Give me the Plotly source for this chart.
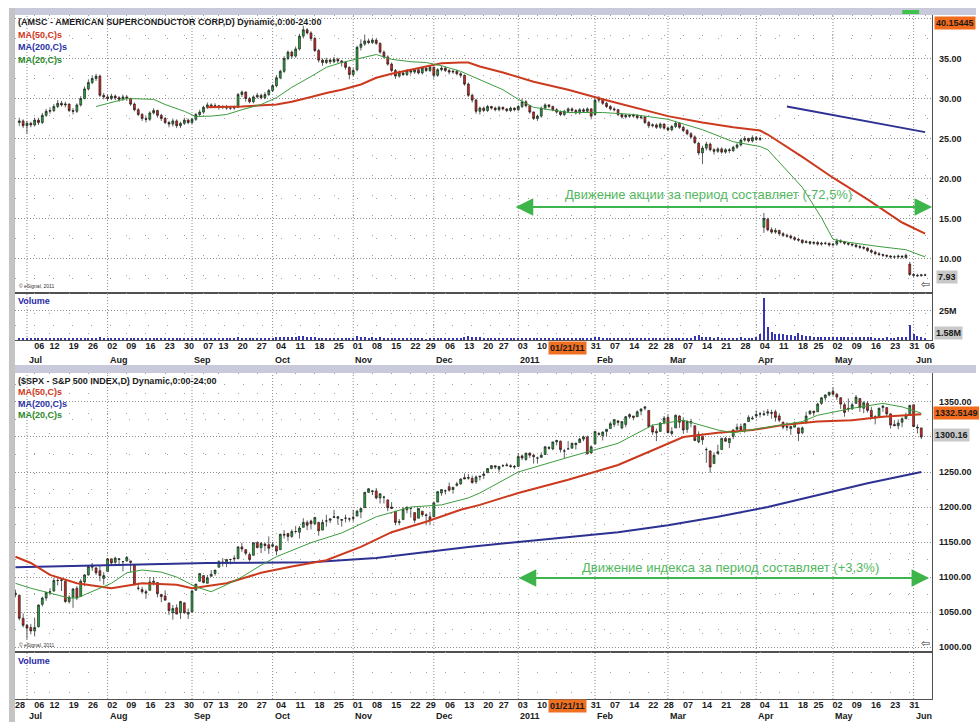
import pandas as pd
import plotly.graph_objects as go

W, H = 979, 722

# ---------------- calendar (trading days shown on the axis) ----------------
HOLIDAYS = ["2010-07-05", "2010-09-06", "2010-11-25", "2010-12-24",
            "2011-01-17", "2011-02-21", "2011-04-22", "2011-05-30"]
trading_days = [d for d in pd.bdate_range("2010-06-28", "2011-06-06")
                if d.strftime("%Y-%m-%d") not in HOLIDAYS]

# ---------------- AMSC daily candles (from 2010-06-29) ----------------
amsc_open = [27.0,27.2,26.6,26.9,26.7,27.3,27.0,27.9,28.4,28.5,
 29.0,29.4,29.2,29.3,28.5,28.4,29.2,30.0,31.2,32.0,
 32.5,32.8,30.4,30.2,30.0,30.3,30.1,29.9,30.2,30.0,
 29.3,28.6,28.0,27.5,27.4,28.2,28.5,27.9,27.5,27.0,
 26.8,27.2,26.6,26.9,27.3,27.0,27.4,28.0,28.3,28.9,
 29.2,29.0,29.1,28.9,29.0,28.8,28.8,28.9,30.5,30.8,
 30.0,29.6,30.2,30.4,30.1,30.5,31.0,31.6,32.6,33.4,
 35.0,35.8,35.3,36.2,37.8,38.6,38.2,37.5,36.0,34.8,
 34.5,34.8,34.6,34.9,34.7,34.5,33.9,33.0,33.6,36.4,
 36.8,37.2,37.0,37.3,36.9,35.8,35.2,34.3,33.5,32.8,
 33.2,33.0,33.5,33.3,33.6,33.2,33.8,33.5,33.9,32.9,
 33.6,33.8,33.5,33.3,33.4,33.1,32.9,31.8,30.4,29.8,
 28.4,28.8,28.5,29.0,28.8,28.6,28.9,28.7,28.5,28.8,
 28.6,29.0,29.6,29.1,28.3,27.5,27.8,28.8,29.2,29.0,
 28.6,28.3,28.0,28.4,28.7,28.5,28.2,28.6,28.4,28.7,
 28.0,29.8,29.9,29.4,29.0,28.7,28.6,28.0,27.7,27.9,
 27.8,27.9,27.6,27.7,27.0,26.6,26.7,26.4,26.8,
 26.3,26.1,26.5,26.9,26.4,26.0,25.6,25.2,24.4,23.2,
 23.8,24.3,23.6,23.4,23.7,23.3,23.6,23.5,23.9,24.2,
 24.8,25.0,24.7,25.1,24.9,13.9,14.9,13.6,13.3,13.5,
 13.1,12.9,12.8,12.6,12.4,12.3,12.0,12.1,11.9,12.0,
 11.8,11.9,11.9,11.7,11.8,12.2,12.1,11.9,11.8,11.7,
 11.5,11.4,11.3,11.0,10.8,10.6,10.5,10.4,10.3,10.2,
 10.2,10.3,10.1,9.3,8.0,7.9,7.85,7.95]
amsc_high = [27.6,27.4,27.2,27.1,27.6,27.6,28.2,28.7,28.9,29.3,
 29.8,29.7,29.6,29.4,28.8,29.4,30.3,31.5,32.4,32.9,
 33.1,33.0,30.7,30.5,30.6,30.5,30.3,30.5,30.4,30.1,
 29.5,28.8,28.2,27.8,28.4,28.8,28.6,28.1,27.7,27.2,
 27.5,27.4,27.1,27.6,27.5,27.6,28.2,28.6,29.1,29.5,
 29.4,29.4,29.2,29.2,29.2,29.0,29.1,30.7,31.0,30.9,
 30.2,30.4,30.7,30.6,30.8,31.2,31.8,32.9,33.6,35.3,
 36.0,36.0,36.5,38.1,39.1,38.8,38.4,37.7,36.2,35.0,
 35.1,35.0,35.2,35.1,34.8,34.7,34.0,33.8,36.6,37.4,
 38.0,37.5,37.6,37.5,37.0,36.0,35.4,34.5,33.7,33.5,
 33.4,33.7,33.6,33.8,33.7,34.0,33.9,34.1,34.0,33.8,
 34.1,34.0,33.7,33.6,33.6,33.3,33.0,32.0,30.6,30.0,
 29.0,29.0,29.2,29.1,29.0,29.1,29.0,28.8,29.0,28.9,
 29.2,30.0,29.8,29.2,28.4,28.0,29.0,29.4,29.3,29.1,
 28.8,28.5,28.6,28.9,28.9,28.7,28.8,28.8,28.9,28.8,
 30.0,30.3,30.0,29.6,29.2,28.9,28.7,28.2,28.1,28.0,
 28.1,28.0,27.9,27.8,27.2,26.9,26.9,27.0,26.9,
 26.5,26.7,27.2,27.0,26.6,26.2,25.8,25.4,24.6,24.1,
 24.6,24.5,23.8,23.9,23.9,23.8,23.8,24.1,24.4,25.0,
 25.3,25.1,25.4,25.3,25.2,15.7,15.1,13.9,13.8,13.6,
 13.3,13.1,13.0,12.8,12.6,12.4,12.3,12.2,12.2,12.2,
 12.1,12.1,12.0,11.9,12.5,12.4,12.2,12.0,11.9,11.8,
 11.7,11.6,11.4,11.2,11.0,10.8,10.6,10.5,10.4,10.4,
 10.5,10.4,10.6,9.6,8.2,8.1,8.1,8.1]
amsc_low = [26.6,26.3,25.6,26.4,26.5,26.7,26.8,27.7,28.1,28.3,
 28.8,29.0,28.9,28.3,28.0,28.2,29.0,29.9,31.0,31.8,
 32.2,30.2,29.9,29.7,29.8,29.8,29.6,29.7,29.7,29.1,
 28.4,27.8,27.2,27.0,27.2,28.0,27.6,27.2,26.8,26.4,
 26.5,26.3,26.3,26.7,26.8,26.8,27.2,27.8,28.1,28.7,
 28.8,28.8,28.6,28.7,28.6,28.6,28.6,28.8,30.2,29.6,
 29.4,29.4,30.0,29.9,29.9,30.3,30.8,31.4,32.4,33.2,
 34.8,35.0,35.1,36.0,37.5,38.0,37.2,35.8,34.5,34.1,
 34.3,34.3,34.4,34.4,34.0,33.6,32.4,32.8,33.4,36.0,
 36.6,36.8,36.8,36.7,35.6,35.0,34.1,33.3,32.5,32.6,
 32.8,32.8,33.0,33.1,33.0,33.0,33.3,33.3,32.6,32.7,
 33.4,33.3,33.0,33.1,32.9,32.6,31.6,30.2,29.5,28.1,
 28.0,28.3,28.3,28.6,28.4,28.4,28.5,28.3,28.3,28.4,
 28.4,28.8,28.9,28.1,27.3,27.2,27.6,28.6,28.8,28.4,
 28.1,27.8,27.8,28.2,28.3,28.0,28.0,28.2,28.2,27.4,
 27.9,29.5,29.2,28.8,28.5,28.4,27.8,27.5,27.5,27.6,
 27.6,27.4,27.4,26.8,26.3,26.4,26.2,26.2,26.1,
 25.9,25.9,26.3,26.2,25.8,25.4,25.0,24.3,22.9,21.8,
 23.5,23.4,23.0,23.2,23.1,23.1,23.2,23.3,23.7,24.0,
 24.6,24.5,24.5,24.7,24.7,13.2,13.4,13.1,13.1,12.9,
 12.7,12.6,12.4,12.2,12.1,11.8,11.9,11.7,11.7,11.6,
 11.6,11.7,11.5,11.5,11.6,11.9,11.7,11.6,11.5,11.3,
 11.2,11.1,10.8,10.6,10.4,10.3,10.2,10.1,10.0,10.0,
 10.0,10.0,10.0,7.9,7.7,7.7,7.75,7.8]
amsc_close = [27.2,26.6,26.9,26.7,27.3,27.0,27.9,28.4,28.5,29.0,
 29.4,29.2,29.3,28.5,28.4,29.2,30.0,31.2,32.0,32.5,
 32.8,30.4,30.2,30.0,30.3,30.1,29.9,30.2,30.0,29.3,
 28.6,28.0,27.5,27.4,28.2,28.5,27.9,27.5,27.0,26.8,
 27.2,26.6,26.9,27.3,27.0,27.4,28.0,28.3,28.9,29.2,
 29.0,29.1,28.9,29.0,28.8,28.8,28.9,30.5,30.8,30.0,
 29.6,30.2,30.4,30.1,30.5,31.0,31.6,32.6,33.4,35.0,
 35.8,35.3,36.2,37.8,38.6,38.2,37.5,36.0,34.8,34.5,
 34.8,34.6,34.9,34.7,34.5,33.9,33.0,33.5,36.4,36.8,
 37.2,37.0,37.3,36.9,35.8,35.2,34.3,33.5,32.8,33.2,
 33.0,33.5,33.3,33.6,33.2,33.8,33.5,33.9,32.9,33.6,
 33.8,33.5,33.3,33.4,33.1,32.9,31.8,30.4,29.8,28.4,
 28.8,28.5,29.0,28.8,28.6,28.9,28.7,28.5,28.8,28.6,
 29.0,29.6,29.1,28.3,27.5,27.8,28.8,29.2,29.0,28.6,
 28.3,28.0,28.4,28.7,28.5,28.2,28.6,28.4,28.7,27.8,
 29.8,29.9,29.4,29.0,28.7,28.6,28.0,27.7,27.9,27.8,
 27.9,27.6,27.7,27.0,26.6,26.7,26.4,26.8,26.3,
 26.1,26.5,26.9,26.4,26.0,25.6,25.2,24.5,23.2,23.8,
 24.3,23.6,23.4,23.7,23.3,23.6,23.5,23.9,24.2,24.8,
 25.0,24.7,25.1,24.9,25.0,15.0,13.6,13.3,13.5,13.1,
 12.9,12.8,12.6,12.4,12.3,12.0,12.1,11.9,12.0,11.8,
 11.9,11.9,11.7,11.8,12.2,12.1,11.9,11.8,11.7,11.5,
 11.4,11.3,11.0,10.8,10.6,10.5,10.4,10.3,10.2,10.2,
 10.3,10.2,10.4,8.0,7.9,7.85,7.95,7.93]
amsc_volume_m = [1.2,1.4,1.3,1.1,0.9,1.0,1.3,1.2,1.1,1.0,1.4,1.2,1.0,1.3,1.1,1.2,1.5,1.9,2.0,1.7,
 1.6,2.2,1.3,1.1,1.0,1.2,1.0,0.9,1.1,1.0,1.3,1.4,1.2,1.1,1.3,1.0,1.1,1.2,1.0,0.9,
 1.1,1.2,1.0,1.1,0.9,1.0,1.2,1.1,1.3,1.2,1.0,1.1,0.9,1.0,1.0,0.9,1.1,2.2,1.6,1.3,
 1.2,1.3,1.1,1.2,1.4,1.6,1.8,2.4,2.2,2.8,2.6,2.3,2.5,3.1,3.3,2.4,2.2,2.6,2.1,1.8,
 1.6,1.5,1.4,1.3,1.5,1.7,2.0,1.6,3.2,2.6,2.2,2.0,2.4,1.9,2.8,2.1,1.9,1.7,1.8,1.5,
 1.4,1.3,1.2,1.3,1.4,1.1,0.8,1.2,1.3,1.5,1.4,1.3,1.2,1.1,1.4,1.3,2.2,3.8,2.6,2.9,
 2.4,2.0,1.6,1.5,1.3,1.2,1.0,1.1,0.9,1.0,1.2,1.8,1.4,1.6,1.7,1.5,1.6,1.4,1.3,1.2,
 1.1,1.2,1.3,1.1,1.0,1.2,1.1,1.3,1.2,1.5,3.0,2.2,1.8,1.5,1.4,1.3,1.2,1.3,1.1,1.2,
 1.2,1.1,1.2,1.5,1.4,1.3,1.6,1.4,1.3,1.5,1.4,1.6,1.5,1.7,1.9,2.1,3.2,4.5,3.0,
 2.6,2.4,2.0,2.2,1.9,1.8,1.7,1.6,1.8,2.2,2.0,1.8,1.9,2.4,5.2,36.5,11.0,7.0,5.5,4.8,
 5.0,4.2,3.9,3.6,6.0,4.0,3.5,3.2,2.8,3.0,2.6,2.5,2.3,2.8,3.0,2.9,2.5,2.4,2.7,2.6,
 2.3,2.2,2.4,2.5,2.0,1.9,2.1,2.2,1.8,2.0,2.3,2.4,2.8,12.5,5.0,3.6,3.0,1.58]

# AMSC moving averages (trading-day index, value)
amsc_ma50_day = [50,59,68,72,77,81,85,90,94,98,103,107,111,116,118,121,127,135,144,153,
                 161,170,179,187,194,196,205,213,222,231,237]
amsc_ma50 = [28.9,29.0,29.25,29.6,30.2,30.7,31.1,31.75,32.6,33.1,33.6,34.0,34.4,34.5,34.5,34.0,
             33.25,32.1,31.1,29.9,28.9,27.8,27.0,26.4,26.0,25.5,22.7,20.1,17.4,14.5,13.1]
amsc_ma20_day = [21,25,29,36,39,44,47,51,55,59,64,68,72,77,81,85,90,94,98,103,107,111,116,118,
                 121,127,131,135,144,153,161,170,179,187,194,196,205,210,213,216,225,232,237]
amsc_ma20 = [29.0,29.5,30.0,29.9,29.25,28.4,27.75,27.8,28.0,28.6,29.25,30.1,31.4,32.75,33.9,34.5,
             35.1,35.5,34.9,34.6,34.5,34.1,33.4,33.0,32.4,31.1,29.9,28.9,28.25,28.25,28.0,27.4,
             26.1,24.6,24.0,23.6,18.9,15.1,12.4,12.1,11.5,11.1,10.2]
amsc_ma200_day = [201, 218, 237]
amsc_ma200 = [29.0, 27.5, 25.8]

# ---------------- S&P 500 daily candles (from 2010-06-28) ----------------
spx_open = [1077,1074,1041,1031,1028,1023,1029,1061,1070,1078,
 1080,1095,1095,1094,1065,1071,1084,1072,1093,1103,
 1117,1113,1109,1098,1108,1126,1121,1125,1122,1123,
 1123,1117,1084,1082,1077,1081,1092,1092,1075,1073,
 1063,1049,1056,1049,1063,1047,1050,1081,1094,1102,
 1091,1101,1105,1114,1121,1120,1125,1127,1126,1143,
 1139,1132,1131,1149,1142,1147,1146,1144,1144,1139,
 1161,1162,1158,1165,1164,1171,1178,1180,1176,1178,
 1167,1180,1181,1185,1184,1181,1184,1183,1185,1187,
 1193,1199,1221,1222,1223,1213,1214,1210,1200,1194,
 1178,1182,1196,1198,1192,1184,1194,1189,1186,1186,
 1207,1220,1223,1229,1225,1231,1233,1242,1241,1241,
 1236,1243,1245,1249,1255,1259,1254,1259,1259,1259,
 1257,1258,1273,1268,1277,1274,1270,1271,1275,1285,
 1283,1293,1294,1280,1283,1284,1289,1292,1297,1300,
 1277,1290,1305,1302,1308,1312,1318,1323,1313,1318,
 1329,1330,1329,1337,1341,1338,1315,1308,1308,1321,
 1328,1305,1313,1330,1323,1311,1322,1316,1293,1301,
 1282,1280,1262,1276,1282,1298,1292,1301,1311,1315,
 1309,1322,1327,1330,1333,1332,1334,1335,1336,1330,
 1321,1315,1312,1314,1313,1306,1320,1333,1337,1336,
 1348,1356,1360,1365,1361,1356,1346,1341,1340,1348,
 1355,1341,1348,1338,1327,1329,1342,1342,1333,1318,
 1316,1321,1326,1331,1346,1314,1313]
spx_high = [1082,1075,1048,1033,1033,1042,1061,1072,1079,1084,
 1099,1099,1098,1095,1074,1084,1087,1097,1104,1115,
 1120,1114,1116,1107,1127,1126,1129,1126,1122,1130,
 1123,1117,1092,1086,1082,1100,1100,1093,1076,1081,
 1063,1060,1061,1066,1064,1055,1082,1090,1105,1102,
 1103,1110,1110,1124,1127,1126,1126,1131,1144,1149,
 1140,1135,1149,1151,1150,1149,1158,1150,1145,1162,
 1167,1163,1168,1173,1173,1184,1181,1182,1186,1179,
 1182,1189,1184,1196,1187,1183,1189,1185,1196,1196,
 1198,1221,1227,1224,1227,1219,1216,1211,1207,1194,
 1183,1200,1200,1198,1192,1198,1194,1189,1193,1207,
 1222,1225,1225,1235,1229,1236,1241,1247,1247,1245,
 1245,1244,1251,1255,1260,1259,1258,1261,1263,1261,
 1260,1277,1275,1277,1278,1276,1272,1278,1287,1287,
 1293,1296,1295,1283,1294,1292,1292,1299,1302,1302,
 1288,1308,1307,1308,1311,1322,1325,1324,1322,1330,
 1333,1330,1338,1341,1344,1338,1318,1312,1321,1330,
 1332,1314,1332,1331,1328,1324,1326,1316,1308,1301,
 1285,1281,1278,1289,1299,1300,1298,1311,1319,1319,
 1320,1331,1330,1338,1336,1338,1340,1339,1339,1333,
 1322,1321,1316,1322,1313,1315,1336,1338,1337,1349,
 1357,1361,1364,1371,1363,1357,1349,1355,1349,1360,
 1355,1351,1351,1343,1331,1342,1346,1342,1333,1324,
 1325,1328,1335,1346,1346,1318,1313]
spx_low = [1071,1038,1028,1011,1018,1015,1028,1058,1066,1074,
 1079,1088,1080,1063,1062,1056,1067,1072,1087,1102,
 1109,1103,1094,1089,1108,1117,1117,1117,1108,1122,
 1107,1088,1081,1076,1069,1081,1088,1071,1064,1066,
 1046,1039,1047,1040,1048,1040,1050,1081,1094,1091,
 1091,1101,1102,1114,1115,1114,1118,1122,1126,1136,
 1131,1122,1131,1141,1134,1137,1133,1142,1131,1139,
 1155,1151,1156,1163,1155,1171,1167,1168,1174,1159,
 1167,1172,1177,1184,1175,1172,1178,1179,1179,1187,
 1184,1199,1220,1217,1211,1205,1205,1194,1197,1174,
 1174,1182,1191,1185,1177,1184,1186,1174,1174,1186,
 1207,1216,1218,1222,1219,1229,1232,1240,1239,1233,
 1233,1238,1240,1249,1254,1254,1250,1257,1258,1256,
 1254,1258,1267,1266,1270,1262,1262,1270,1275,1282,
 1281,1288,1278,1270,1283,1284,1282,1292,1294,1275,
 1277,1290,1302,1295,1301,1312,1314,1316,1311,1314,
 1326,1324,1329,1331,1338,1313,1303,1294,1308,1318,
 1306,1302,1313,1313,1305,1306,1314,1294,1291,1289,
 1263,1249,1262,1276,1282,1293,1284,1297,1310,1310,
 1306,1322,1325,1327,1328,1330,1330,1326,1322,1321,
 1311,1309,1303,1314,1294,1304,1320,1332,1330,1336,
 1346,1352,1358,1359,1353,1340,1329,1336,1339,1348,
 1336,1334,1335,1329,1318,1329,1336,1330,1312,1316,
 1311,1314,1326,1331,1314,1305,1297]
spx_close = [1075,1041,1031,1027,1023,1028,1060,1070,1078,1079,
 1095,1095,1096,1065,1071,1083,1070,1094,1103,1115,
 1114,1106,1102,1102,1126,1120,1127,1126,1122,1128,
 1121,1089,1084,1079,1079,1093,1094,1076,1072,1067,
 1052,1055,1047,1065,1049,1049,1080,1090,1105,1092,
 1099,1104,1110,1122,1121,1125,1125,1126,1143,1140,
 1134,1125,1149,1142,1148,1145,1141,1146,1137,1161,
 1160,1158,1165,1165,1170,1178,1174,1176,1185,1166,
 1178,1180,1183,1186,1186,1182,1184,1183,1184,1194,
 1198,1221,1226,1223,1213,1219,1214,1199,1198,1178,
 1179,1197,1200,1198,1181,1198,1189,1188,1181,1206,
 1222,1225,1223,1224,1228,1233,1240,1240,1242,1235,
 1243,1244,1247,1255,1259,1257,1258,1259,1260,1258,
 1258,1272,1270,1277,1274,1272,1270,1274,1286,1284,
 1293,1295,1282,1280,1283,1291,1291,1297,1300,1276,
 1286,1308,1304,1307,1311,1319,1325,1321,1322,1329,
 1332,1328,1336,1340,1343,1315,1307,1306,1320,1327,
 1306,1308,1331,1321,1310,1322,1320,1295,1304,1296,
 1282,1257,1274,1279,1298,1294,1298,1310,1314,1310,
 1319,1328,1326,1332,1333,1333,1336,1334,1328,1324,
 1314,1314,1315,1320,1305,1313,1330,1337,1335,1347,
 1356,1360,1364,1361,1357,1347,1335,1340,1346,1357,
 1342,1349,1338,1329,1329,1341,1344,1333,1317,1316,
 1320,1326,1331,1345,1315,1313,1300]

spx_ma50_day = [0,4,9,16,25,33,42,46,55,64,72,81,90,98,107,116,121,131,144,157,
                166,174,183,192,200,209,218,226,236]
spx_ma50 = [1129,1120,1103,1091,1084,1091,1089,1084,1091,1106,1115,1124,1143,1164,1179,1196,
            1203,1220,1239,1260,1281,1300,1306,1310,1317,1322,1324,1329,1332.5]
spx_ma20_day = [0,4,9,14,16,20,25,29,33,38,42,47,51,55,59,64,68,77,85,94,103,111,118,121,
                131,144,157,166,174,183,187,196,205,209,218,226,231,236]
spx_ma20 = [1091,1084,1077,1070,1070,1079,1091,1106,1110,1107,1100,1086,1079,1089,1100,1117,
            1129,1149,1163,1186,1200,1203,1213,1220,1250,1271,1291,1317,1324,1310,1306,1314,
            1322,1331,1341,1348,1343,1334]
spx_ma200_day = [0,25,50,77,94,106,118,131,144,157,170,183,196,209,222,236]
spx_ma200 = [1114,1117,1120,1121,1127,1135,1143,1150,1157,1164,1174,1186,1200,1217,1234,1250]

# ---------------- derived positions ----------------
na = min(len(amsc_open), len(amsc_high), len(amsc_low), len(amsc_close))
amsc_x = list(range(1, 1 + na))
ns = min(len(spx_open), len(spx_high), len(spx_low), len(spx_close))
spx_x = list(range(ns))

week_first = []
seen = set()
for i, d in enumerate(trading_days):
    k = d.isocalendar()[:2]
    if k not in seen:
        seen.add(k)
        week_first.append(i)
month_first = []
seenm = set()
for i, d in enumerate(trading_days):
    k = (d.year, d.month)
    if k not in seenm:
        seenm.add(k)
        if i > 0:
            month_first.append(i)

top_weeks = [i for i in week_first if i != 0]
bot_weeks = [i for i in week_first if i != len(trading_days) - 1]
# labels hidden behind the "01/21/11" cursor box
HIDDEN = {"2011-01-18", "2011-01-24"}


def ypx(y):
    return 1 - y / H


def xpx(x):
    return x / W


XR = [-0.13, 238.83]
XDOM = [xpx(15), xpx(935)]
RED, BLUE, GREEN = "#cc3a1e", "#2d3192", "#3d9b3d"
TXT = "#1a1a1a"
TF = dict(family="Liberation Sans", size=9, color=TXT, weight="bold")
GRID = "#8e8e8e"

fig = go.Figure()
inc = dict(line=dict(color="#1e1e1e", width=0.7), fillcolor="#21ad3a")
dec = dict(line=dict(color="#1e1e1e", width=0.7), fillcolor="#e1221a")

fig.add_trace(go.Candlestick(x=amsc_x, open=amsc_open[:na], high=amsc_high[:na], low=amsc_low[:na],
                             close=amsc_close[:na], increasing=inc, decreasing=dec, whiskerwidth=0,
                             xaxis="x", yaxis="y", hoverinfo="skip", showlegend=False))
for xs, ys, c, w in [(amsc_ma200_day, amsc_ma200, BLUE, 2), (amsc_ma50_day, amsc_ma50, RED, 2),
                     (amsc_ma20_day, amsc_ma20, GREEN, 1)]:
    fig.add_trace(go.Scatter(x=xs, y=ys, mode="lines", line=dict(color=c, width=w),
                             xaxis="x", yaxis="y", hoverinfo="skip", showlegend=False))
fig.add_trace(go.Bar(x=amsc_x[:len(amsc_volume_m)], y=amsc_volume_m[:na], width=0.3,
                     marker=dict(color="#3434b4", line=dict(width=0)),
                     xaxis="x2", yaxis="y2", hoverinfo="skip", showlegend=False))

fig.add_trace(go.Candlestick(x=spx_x, open=spx_open[:ns], high=spx_high[:ns], low=spx_low[:ns],
                             close=spx_close[:ns], increasing=inc, decreasing=dec, whiskerwidth=0,
                             xaxis="x3", yaxis="y3", hoverinfo="skip", showlegend=False))
for xs, ys, c, w in [(spx_ma200_day, spx_ma200, BLUE, 2), (spx_ma50_day, spx_ma50, RED, 2),
                     (spx_ma20_day, spx_ma20, GREEN, 1)]:
    fig.add_trace(go.Scatter(x=xs, y=ys, mode="lines", line=dict(color=c, width=w),
                             xaxis="x3", yaxis="y3", hoverinfo="skip", showlegend=False))


def xaxis(anchor, weeks, labels):
    d = dict(anchor=anchor, domain=XDOM, range=XR, showline=True, linecolor="#505050",
             linewidth=1, mirror=True, zeroline=False, showgrid=False, fixedrange=True,
             rangeslider=dict(visible=False), ticks="",
             minor=dict(tickvals=weeks, showgrid=True, gridcolor="#a0a0a0",
                        griddash="1px,19px", gridwidth=1, ticks=""))
    if labels:
        shown = [i for i in weeks if trading_days[i].strftime("%Y-%m-%d") not in HIDDEN]
        d.update(tickmode="array", tickvals=[i + 1.2 for i in shown],
                 ticktext=["%02d" % trading_days[i].day for i in shown], tickfont=TF,
                 showticklabels=True, ticklabelstandoff=-3)
    else:
        d.update(showticklabels=False, tickmode="array", tickvals=[])
    return d


def yaxis(anchor, dom, rng, vals, texts, minor_vals, grid=True):
    return dict(anchor=anchor, domain=dom, range=rng, side="right", showline=True,
                linecolor="#505050", linewidth=1, mirror=True, zeroline=False, fixedrange=True,
                tickmode="array", tickvals=vals, ticktext=texts, tickfont=TF, ticks="",
                ticklabelstandoff=4, showgrid=grid, gridcolor=GRID, griddash="1px,2px", gridwidth=1,
                minor=dict(tickvals=minor_vals, showgrid=grid, gridcolor="#a0a0a0",
                           griddash="1px,18px", gridwidth=1, ticks=""))


top_p = [10, 15, 20, 25, 30, 35, 40]
bot_p = [1000, 1050, 1100, 1150, 1200, 1250, 1300, 1350]
# the last-price boxes cover the 40.00 and 1300.00 labels, as on the original screen
top_txt = ["%.2f" % v if v != 40 else "" for v in top_p]
bot_txt = ["%.2f" % v if v != 1300 else "" for v in bot_p]
fig.update_layout(
    width=W, height=H, margin=dict(l=0, r=0, t=0, b=0, pad=0),
    paper_bgcolor="white", plot_bgcolor="white", showlegend=False, bargap=0,
    xaxis=xaxis("y", top_weeks, False),
    xaxis2=xaxis("y2", top_weeks, True),
    xaxis3=xaxis("y3", bot_weeks, False),
    xaxis4=xaxis("y4", bot_weeks, True),
    yaxis=yaxis("x", [ypx(293), ypx(15)], [5.69, 40.44], top_p, top_txt,
                [7.5 + 5 * k for k in range(7)]),
    yaxis2=yaxis("x2", [ypx(340), ypx(293)], [0, 40.5], [25], ["25M"], [12.5]),
    yaxis3=yaxis("x3", [ypx(652), ypx(373)], [992.9, 1391.4], bot_p, bot_txt,
                 [1025 + 50 * k for k in range(8)]),
    yaxis4=yaxis("x4", [ypx(699), ypx(652)], [0, 1], [], [], [], grid=False),
)

shapes = []
# window frame bands
for x0, x1, y0, y1, c in [(9, 979, 8, 15, "#c9c9dc"), (9, 15, 8, 366, "#c4c4c4"),
                          (9, 979, 365, 373, "#c9c9dc"), (9, 15, 365, 722, "#c4c4c4"),
                          (905, 922, 10, 14, "#3fc24a")]:
    shapes.append(dict(type="rect", xref="paper", yref="paper", x0=xpx(x0), x1=xpx(x1),
                       y0=ypx(y1), y1=ypx(y0), fillcolor=c, line=dict(width=0), layer="above"))
# month gridlines
for xr, yr in [("x", "y"), ("x2", "y2"), ("x3", "y3"), ("x4", "y4")]:
    for m in month_first:
        shapes.append(dict(type="line", xref=xr, yref=yr + " domain", x0=m, x1=m, y0=0, y1=1,
                           line=dict(color=GRID, width=1, dash="1px,2px"), layer="below"))

ann = []


def text(x, y, s, color=TXT, size=9, bold=True, anchor="left", bg=None, family="Liberation Sans"):
    d = dict(xref="paper", yref="paper", x=xpx(x), y=ypx(y), text=s, showarrow=False,
             xanchor=anchor, yanchor="middle",
             font=dict(family=family, size=size, color=color, weight="bold" if bold else "normal"))
    if bg:
        d.update(bgcolor=bg, borderpad=1)
    ann.append(d)


text(16, 22, "(AMSC - AMERICAN SUPERCONDUCTOR CORP,D) Dynamic,0:00-24:00")
text(16, 35, "MA(50,C)s", "#d0381c")
text(16, 47, "MA(200,C)s", "#2b32a6")
text(16, 60, "MA(20,C)s", "#2a8a2a")
text(16, 381, "($SPX - S&P 500 INDEX,D) Dynamic,0:00-24:00")
text(16, 392, "MA(50,C)s", "#d0381c")
text(16, 404, "MA(200,C)s", "#2b32a6")
text(16, 415, "MA(20,C)s", "#2a8a2a")
text(16, 301, "Volume", "#2a2aa8")
text(16, 661, "Volume", "#2a2aa8")
text(17, 286, "© eSignal, 2011", "#333", size=5, bold=False)
text(17, 645, "© eSignal, 2011", "#333", size=5, bold=False)
text(922, 284, "⇦", "#333", size=11, bold=False, family="DejaVu Sans")
text(922, 643, "⇦", "#333", size=11, bold=False, family="DejaVu Sans")

text(937, 23, "40.15445", bg="#f26a1b")
text(939, 277, "7.93", bg="#c8c8c8")
text(937, 333, "1.58M", bg="#c8c8c8")
text(936, 413, "1332.5149", bg="#f26a1b")
text(936, 435, "1300.16", bg="#c8c8c8")

text(569, 348, "01/21/11", anchor="center", bg="#f07022")
text(569, 706, "01/21/11", anchor="center", bg="#f07022")

for xr, ypos in [("x2", 360), ("x4", 716)]:
    for m in month_first:
        d = trading_days[m]
        lab = "2011" if (d.year == 2011 and d.month == 1) else d.strftime("%b")
        ann.append(dict(xref=xr, yref="paper", x=m, y=ypx(ypos), text=lab, showarrow=False,
                        xanchor="left", yanchor="middle", font=TF))

ARROW = "#3db54a"
text(711, 195, "Движение акции за период составляет (-72,5%)", "#52b860", size=13, bold=False,
     anchor="center")
text(733, 567, "Движение индекса за период составляет (+3,3%)", "#52b860", size=13, bold=False,
     anchor="center")
for x0, x1, y in [(517, 935, 207), (520, 932, 578)]:
    ann.append(dict(xref="paper", yref="paper", x=xpx(x1), y=ypx(y), ax=-(x1 - x0), ay=0,
                    axref="pixel", ayref="pixel", text="", showarrow=True, arrowhead=2,
                    arrowside="end+start", arrowsize=1.6, arrowwidth=2.2, arrowcolor=ARROW))

fig.update_layout(shapes=shapes, annotations=ann)
fig.write_html("out.html", config={"displayModeBar": False},
               post_script="document.body.style.margin='0';document.body.style.overflow='hidden';")
